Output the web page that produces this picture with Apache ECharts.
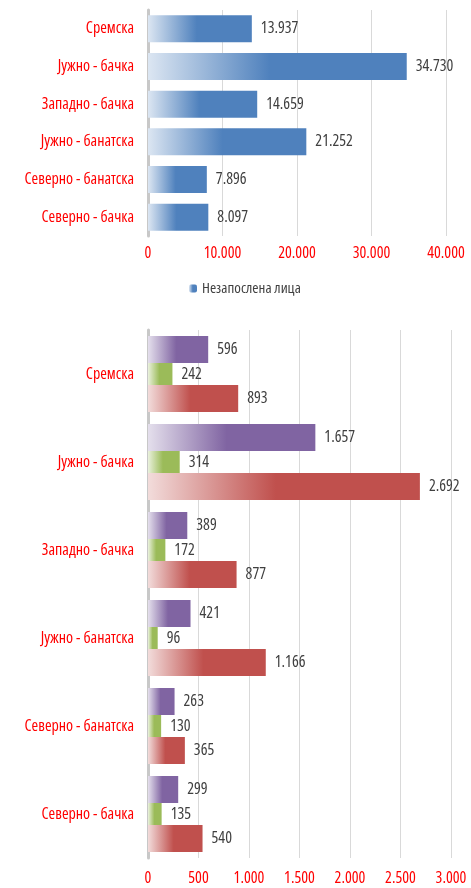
<!DOCTYPE html>
<html><head><meta charset="utf-8">
<script src="https://cdn.jsdelivr.net/npm/echarts@6/dist/echarts.min.js"></script>
<style>html,body{margin:0;padding:0;background:#fff}#c{width:471px;height:888px}</style>
</head><body><div id="c"></div>
<script>
const categories = ['Сремска','Јужно - бачка','Западно - бачка','Јужно - банатска','Северно - банатска','Северно - бачка'];
const unemployed = [13937, 34730, 14659, 21252, 7896, 8097];
const seriesA = [596, 1657, 389, 421, 263, 299];
const seriesB = [242, 314, 172, 96, 130, 135];
const seriesC = [893, 2692, 877, 1166, 365, 540];
const topTicks = [0, 10000, 20000, 30000, 40000];
const bottomTicks = [0, 500, 1000, 1500, 2000, 2500, 3000];

const FONT = "'Open Sans','Liberation Sans Narrow',sans-serif";
const FW = 'condensed';
function fmt(v){ return String(v).replace(/\B(?=(\d{3})+(?!\d))/g, '.'); }
function grad(light, solid){
  return new echarts.graphic.LinearGradient(0,0,1,0,[
    {offset:0,color:light},{offset:0.47,color:solid},{offset:1,color:solid}]);
}
const chart = echarts.init(document.getElementById('c'), null, {renderer:'canvas'});
const labelStyle = {show:true, position:'right', distance:9, color:'#404040', fontFamily:FONT, fontWeight:FW, fontSize:16, formatter:p=>fmt(p.value)};
const yAx = (gi)=>({type:'category', gridIndex:gi, data:categories, inverse:true,
  axisLine:{show:true, lineStyle:{color:'#c8c8c8', width:3}}, axisTick:{show:false},
  axisLabel:{color:'#ff0000', fontFamily:FONT, fontWeight:FW, fontSize:16, margin:14}});
const xAx = (gi, max, interval, margin)=>({type:'value', gridIndex:gi, min:0, max:max, interval:interval,
  axisLine:{show:false}, axisTick:{show:false},
  splitLine:{show:true, lineStyle:{color:'#d9d9d9', width:1}},
  axisLabel:{color:'#ff0000', fontFamily:FONT, fontWeight:FW, fontSize:16, margin:margin, formatter:v=>fmt(v)}});
chart.setOption({
  animation:false,
  textStyle:{fontFamily:FONT},
  grid:[{left:148, right:25, top:10, height:226, outerBoundsMode:'none', containLabel:false},
        {left:148, right:20, top:330, height:528, outerBoundsMode:'none', containLabel:false}],
  xAxis:[xAx(0, topTicks[topTicks.length-1], topTicks[1]-topTicks[0], 9),
         xAx(1, bottomTicks[bottomTicks.length-1], bottomTicks[1]-bottomTicks[0], 12)],
  yAxis:[yAx(0), yAx(1)],
  legend:{data:['Незапослена лица'], left:184, top:276, itemWidth:8, itemHeight:8, itemGap:3,
    textStyle:{color:'#404040', fontFamily:FONT, fontWeight:FW, fontSize:15}},
  series:[
    {name:'Незапослена лица', type:'bar', xAxisIndex:0, yAxisIndex:0, data:unemployed, barWidth:27,
     itemStyle:{color:grad('#dce6f2','#4f81bd')}, label:labelStyle},
    {name:'A', type:'bar', xAxisIndex:1, yAxisIndex:1, data:seriesA, barWidth:27, barGap:'0%',
     itemStyle:{color:grad('#e4dfec','#8064a2')}, label:labelStyle},
    {name:'B', type:'bar', xAxisIndex:1, yAxisIndex:1, data:seriesB, barWidth:22, barGap:'0%',
     itemStyle:{color:grad('#eaf1dd','#9bbb59')}, label:labelStyle},
    {name:'C', type:'bar', xAxisIndex:1, yAxisIndex:1, data:seriesC, barWidth:27, barGap:'0%',
     itemStyle:{color:grad('#f2dcdb','#c0504d')}, label:labelStyle}
  ]
});
</script></body></html>
